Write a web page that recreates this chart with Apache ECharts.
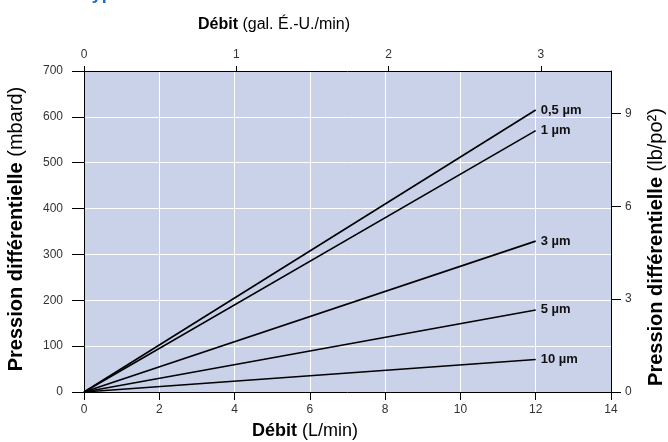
<!DOCTYPE html>
<html>
<head>
<meta charset="utf-8">
<script src="https://cdn.jsdelivr.net/npm/echarts@6/dist/echarts.min.js"></script>
<style>html,body{margin:0;padding:0;background:#fff;}#c{width:668px;height:442px;}</style>
</head>
<body>
<div id="c"></div>
<script>
// Data
const seriesNames = ['0,5 µm', '1 µm', '3 µm', '5 µm', '10 µm'];
const flowLmin = [0, 12];                 // Débit (L/min)
const dp05 = [0, 615];                    // mbard
const dp1 = [0, 570];
const dp3 = [0, 329];
const dp5 = [0, 179];
const dp10 = [0, 71];
const bottomTicks = [0, 14, 2];           // min, max, interval (L/min)
const topTicks = [0, 3.46, 1];            // gal. É.-U./min
const leftTicks = [0, 700, 100];          // mbard
const rightTicks = [0, 10.37, 3];         // lb/po²

const FONT = "'Liberation Sans Narrow','Liberation Sans',Arial,sans-serif";
const NFONT = "'Liberation Sans',Arial,sans-serif";
const values = [dp05, dp1, dp3, dp5, dp10];

const chart = echarts.init(document.getElementById('c'), null, {renderer: 'canvas'});

const axisLine = {show: true, onZero: false, lineStyle: {color: '#000', width: 1}};
const lbl = {color: '#333', fontSize: 12, fontFamily: FONT};

function nameText(x, y, bold, reg, size, rot) {
  return {
    type: 'text', x: x, y: y, rotation: rot || 0, silent: true,
    style: {
      text: '{b|' + bold + '}{r|' + reg + '}',
      rich: {
        b: {fontWeight: 'bold', fontSize: size, fontFamily: NFONT, fill: '#000', color: '#000'},
        r: {fontWeight: 'normal', fontSize: size, fontFamily: NFONT, fill: '#000', color: '#000'}
      },
      fontSize: size, fontFamily: NFONT, fill: '#000',
      textAlign: 'center', textVerticalAlign: 'middle'
    }
  };
}

chart.setOption({
  animation: false,
  backgroundColor: '#fff',
  grid: {left: 84, right: 57, top: 71, bottom: 50, show: true, backgroundColor: '#cad2ea', borderWidth: 0},
  xAxis: [
    {type: 'value', position: 'bottom', min: bottomTicks[0], max: bottomTicks[1], interval: bottomTicks[2],
     axisLine: axisLine, axisTick: {show: true, length: 8, lineStyle: {color: '#000'}},
     axisLabel: Object.assign({margin: 12}, lbl),
     splitLine: {show: true, lineStyle: {color: '#fff', width: 1}}},
    {type: 'value', position: 'top', min: topTicks[0], max: topTicks[1], interval: topTicks[2],
     axisLine: axisLine, axisTick: {show: true, length: 5, lineStyle: {color: '#000'}},
     axisLabel: Object.assign({margin: 10, showMaxLabel: false,
       formatter: v => (Math.abs(v - Math.round(v)) < 1e-9 ? String(Math.round(v)) : '')}, lbl),
     splitLine: {show: false}}
  ],
  yAxis: [
    {type: 'value', position: 'left', min: leftTicks[0], max: leftTicks[1], interval: leftTicks[2],
     axisLine: axisLine, axisTick: {show: true, length: 12, lineStyle: {color: '#000'}},
     axisLabel: Object.assign({margin: 21}, lbl),
     splitLine: {show: true, lineStyle: {color: '#fff', width: 1}}},
    {type: 'value', position: 'right', min: rightTicks[0], max: rightTicks[1], interval: rightTicks[2],
     axisLine: axisLine, axisTick: {show: true, length: 10, lineStyle: {color: '#000'}},
     axisLabel: Object.assign({margin: 14, showMaxLabel: false,
       formatter: v => (Math.abs(v - Math.round(v)) < 1e-9 ? String(Math.round(v)) : '')}, lbl),
     splitLine: {show: false}}
  ],
  series: seriesNames.map((n, i) => ({
    name: n, type: 'line', xAxisIndex: 0, yAxisIndex: 0,
    data: flowLmin.map((x, j) => [x, values[i][j]]),
    symbol: 'none', lineStyle: {color: '#000', width: 1.6},
    endLabel: {show: true, formatter: '{a}', fontWeight: 'bold', fontSize: 13, fontFamily: FONT, color: '#111', distance: 5}
  })),
  graphic: [
    {type: 'text', x: 82, y: 3, silent: true,
     style: {text: 'Types', fontWeight: 'bold', fontSize: 18, fontFamily: NFONT, fill: '#1a6ec2', textVerticalAlign: 'bottom'}},
    nameText(305, 431, 'Débit', ' (L/min)', 18),
    nameText(274, 24.5, 'Débit', ' (gal. É.-U./min)', 16),
    nameText(16, 229, 'Pression différentielle', ' (mbard)', 20, Math.PI / 2),
    nameText(656, 247, 'Pression différentielle', ' (lb/po²)', 20, Math.PI / 2)
  ]
});
</script>
</body>
</html>
